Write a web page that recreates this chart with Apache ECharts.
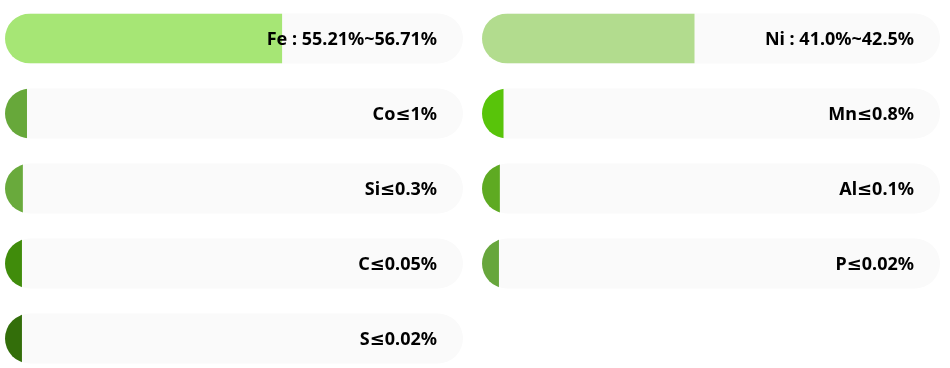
<!DOCTYPE html>
<html>
<head>
<meta charset="utf-8">
<script src="https://cdn.jsdelivr.net/npm/echarts@6/dist/echarts.min.js"></script>
<style>
html,body{margin:0;padding:0;background:#fff;}
#main{width:950px;height:368px;}
</style>
</head>
<body>
<div id="main"></div>
<script>
// ---- data ----
var leftCategories = ['Fe', 'Co', 'Si', 'C', 'S'];
var leftValues = [60.5, 4.8, 3.9, 3.7, 3.7];
var leftLabels = ['Fe : 55.21%~56.71%', 'Co≤1%', 'Si≤0.3%', 'C≤0.05%', 'S≤0.02%'];
var rightCategories = ['Ni', 'Mn', 'Al', 'P'];
var rightValues = [46.4, 4.7, 3.9, 3.7];
var rightLabels = ['Ni : 41.0%~42.5%', 'Mn≤0.8%', 'Al≤0.1%', 'P≤0.02%'];
var trackMax = 100;

// ---- styles ----
var leftColors = ['#a6e675', '#67a83a', '#69aa3c', '#408c0b', '#336e0a'];
var rightColors = ['#b2dc8e', '#58c40a', '#5eaa22', '#67a63c'];
var FONT = 'bold 18px "Noto Sans", "DejaVu Sans", sans-serif';

function makeRender(labels, colors) {
  return function (params, api) {
    var idx = api.value(1);
    var v = api.value(0);
    var p0 = api.coord([0, idx]);
    var p1 = api.coord([v, idx]);
    var pMax = api.coord([trackMax, idx]);
    var h = 50;
    var y = p0[1] - h / 2;
    var w = pMax[0] - p0[0];
    return {
      type: 'group',
      children: [
        { type: 'rect', shape: { x: p0[0], y: y, width: w, height: h, r: h / 2 }, style: { fill: '#fafafa' } },
        {
          type: 'rect', shape: { x: p0[0], y: y, width: w, height: h, r: h / 2 }, style: { fill: colors[params.dataIndex] },
          clipPath: { type: 'rect', shape: { x: p0[0], y: y, width: p1[0] - p0[0], height: h } }
        },
        { type: 'text', x: pMax[0] - 26, y: p0[1] + 1, style: { text: labels[params.dataIndex], align: 'right', verticalAlign: 'middle', font: FONT, fill: '#000' } }
      ]
    };
  };
}

var chart = echarts.init(document.getElementById('main'), null, { renderer: 'canvas' });
chart.setOption({
  animation: false,
  grid: [
    { left: 5, width: 458, top: 1, height: 375, outerBoundsMode: 'none', containLabel: false },
    { left: 482, width: 458, top: 1, height: 300, outerBoundsMode: 'none', containLabel: false }
  ],
  xAxis: [
    { type: 'value', gridIndex: 0, min: 0, max: trackMax, show: false },
    { type: 'value', gridIndex: 1, min: 0, max: trackMax, show: false }
  ],
  yAxis: [
    { type: 'category', gridIndex: 0, data: leftCategories, inverse: true, show: false },
    { type: 'category', gridIndex: 1, data: rightCategories, inverse: true, show: false }
  ],
  series: [
    {
      type: 'custom', xAxisIndex: 0, yAxisIndex: 0,
      data: leftValues.map(function (v, i) { return [v, i]; }),
      encode: { x: 0, y: 1 },
      renderItem: makeRender(leftLabels, leftColors)
    },
    {
      type: 'custom', xAxisIndex: 1, yAxisIndex: 1,
      data: rightValues.map(function (v, i) { return [v, i]; }),
      encode: { x: 0, y: 1 },
      renderItem: makeRender(rightLabels, rightColors)
    }
  ]
});
</script>
</body>
</html>
